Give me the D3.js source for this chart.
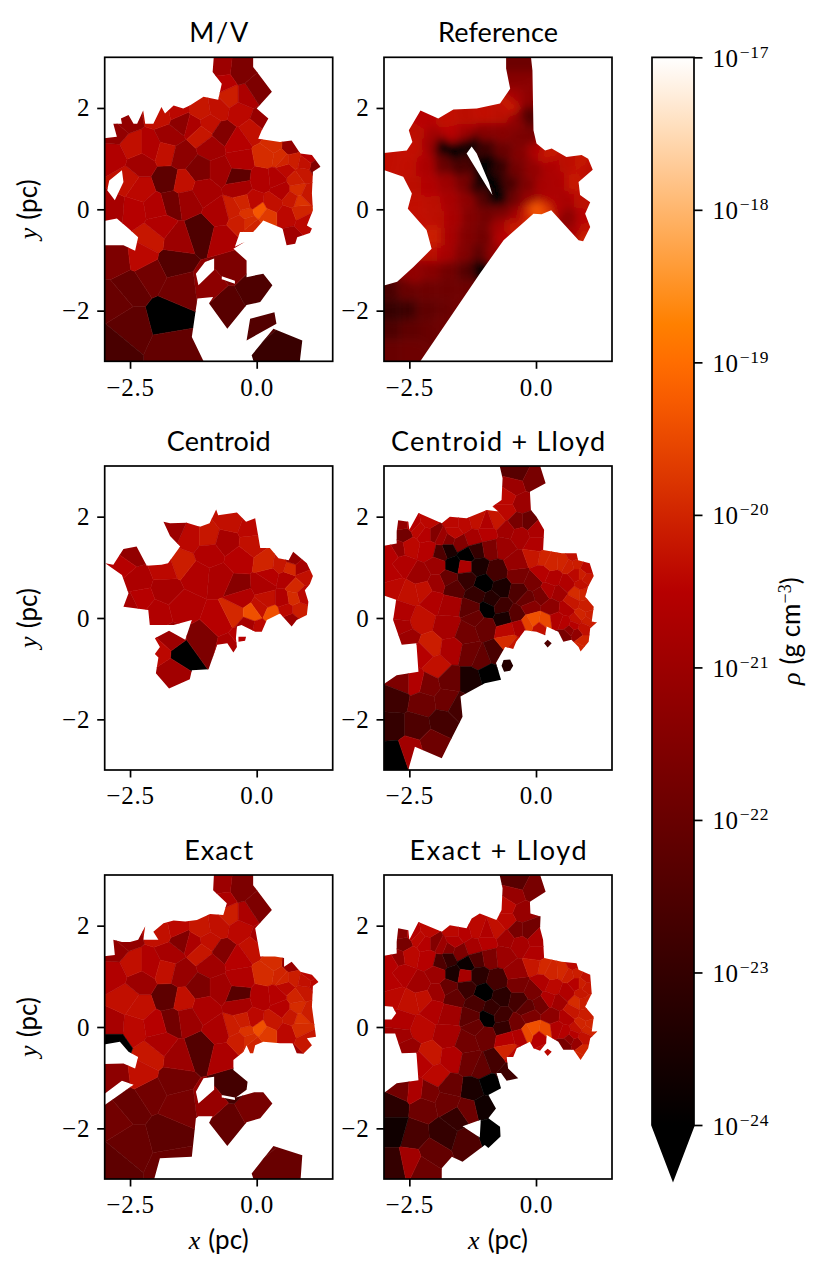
<!DOCTYPE html>
<html>
<head>
<meta charset="utf-8">
<script src="https://cdn.jsdelivr.net/npm/d3@7"></script>
<style>
  body { margin: 0; background: #fff; }
  text { fill: #000; }
</style>
</head>
<body>
<svg id="chart" width="830" height="1274"></svg>
<script>
// all density values are log10(rho), positions in pc
const titles = ['M/V', 'Reference', 'Centroid', 'Centroid + Lloyd', 'Exact', 'Exact + Lloyd']
const titleWidths = [59, 120, 104, 214, 69, 177]
const xTicks = [-2.5, 0]
const yTicks = [-2, 0, 2]
const rhoTicks = [-17, -18, -19, -20, -21, -22, -23, -24]

// M/V mesh generators (the Exact panel sits on nearly the same mesh)
const mvX = [
  -1.74, -1.09, -1.76, -0.36, -1.67, -1.64, -0.59, -0.07, -0.49, -0.92,
  0.1, 0.43, -2.5, -2.1, -1.51, -1.64, -2.5, -2.83, -2.76, -2.82,
  -1.58, -2.07, -2.27, -2.43, -2.83, -2.3, -2.57, -2.3, -2.43, -2.83,
  -2.1, -1.71, -1.78, -1.48, -1.48, -1.25, -1.09, -1.58, -1.88, -0.95,
  -1.09, -0.66, -0.89, -0.53, -0.76, -0.33, -0.2, 0, -0.33, -0.69,
  -0.66, 0.1, -0.07, -0.39, -0.33, -1.12, -0.72, -1.05, -1.45, -1.38,
  -2, -1.91, -0.46, -0.72, -0.66, -0.33, 0.1, 0.49, -0.2, 0.07,
  -0.07, 0.3, 0.59, 0.86, 0.82, 0.92, 0.59, 0.66, 0.46, 0.2,
  0.69, 1.05, 1.18, 0.99, -2.62, -2.8,
  0.33, 0.55, 0.72, 0.95, 0.78, 0.85, 1, 0.7, 0.4, -0.05,
  -0.25, -0.15, 0.2, -0.35
]
const mvY = [
  -2.12, -0.45, 0.57, 0.63, 0.14, -1.04, -1.86, -1.57, -1.14, -1.5,
  -2.29, -2.68, -1.53, -1.27, -1.57, -2.72, -2.32, -2.72, -1, -1.8,
  -0.61, -0.55, -0.94, -0.02, 0.01, 0.38, 0.57, 0.9, 1.23, 1.03,
  1.23, 1.43, 1.14, 1.07, 1.72, 1.66, 1.94, 1.95, 1.89, 1.69,
  1.49, 1.49, 1.23, 2.22, 1.99, 1.92, 2.22, 2.35, 2.74, 2.78,
  2.51, 1.76, 1.56, 1.33, 0.97, 0.77, 0.77, 0.38, 0.51, 0.18,
  0.05, -0.35, -0.02, -0.09, -0.55, 0.44, 0.57, 0.38, -0.09, -0.02,
  -0.35, 0.11, -0.12, -0.02, 0.38, 0.7, 0.8, 1.23, 1.03, 1.07,
  -0.58, 1.03, 0.85, -0.28, 1.76, 1.55,
  1.25, 0.95, 0.95, 0.9, 0.6, 0.15, 0.3, 0.2, 0.6, 0.15,
  0.1, -0.25, -0.12, -0.25
]
const mvRho = [
  -24.5, -22.5, -22.2, -22.2, -21.8, -22.4, -22.3, -22.5, -21.6, -21.3,
  -22.4, -22.9, -22.1, -21.8, -21.8, -22.1, -22.2, -22.6, -21.6, -22,
  -21, -20.2, -20.4, -20.5, -20.8, -20.4, -20.3, -20.9, -20.3, -20.6,
  -20.6, -21, -20.3, -21.3, -21.3, -20.7, -20.2, -20.4, -20.3, -20.3,
  -20.2, -21.5, -20.9, -20.1, -20.3, -20.4, -20.7, -21.6, -21.6, -21,
  -20.5, -21.1, -20.3, -20.5, -20.6, -21.6, -20.9, -20.8, -20.3, -21,
  -20.6, -20.6, -20.1, -20.7, -20.7, -20.8, -20.6, -20.6, -19.8, -19.3,
  -20, -20.3, -20.4, -20, -19.9, -20.2, -20.4, -21.2, -19.9, -19.9,
  -20.9, -20.5, -21.5, -20.4, -21.2, -21.2,
  -19.9, -20, -20.1, -20.3, -20.1, -19.8, -20.2, -20.2, -20.6, -20.4,
  -20, -19.9, -19.7, -20.1
]
const mvRings = [
  [[-0.84, 3.1], [-0.07, 3.1], [-0.07, 2.81], [0.3, 2.32], [0, 1.99], [0.23, 1.79], [0.1, 1.56], [0.03, 1.39], [0.46, 1.33], [0.69, 1.36],
   [0.86, 1.1], [1.09, 1.07], [1.26, 0.84], [1.11, 0.74], [1.09, 0.31], [1.11, -0.02], [0.99, -0.32], [1.09, -0.38], [1.05, -0.47], [0.8, -0.55],
   [0.76, -0.68], [0.59, -0.71], [0.51, -0.38], [0.13, -0.22], [-0.07, -0.45], [-0.33, -0.45], [-0.43, -0.74], [-0.23, -0.64], [-0.46, -0.78], [-0.2, -1.01],
   [-0.2, -1.34], [0.13, -1.27], [0.31, -1.5], [0.07, -1.83], [-0.2, -1.89], [-0.58, -2.36], [-0.94, -1.86], [-0.86, -1.73], [-1.17, -1.76], [-1.28, -2.52],
   [-1, -3.1], [-3.1, -3.1], [-3.1, -0.71], [-2.63, -0.71], [-2.4, -0.82], [-2.34, -0.55], [-2.53, -0.38], [-2.76, -0.18], [-3.1, -0.25], [-3.1, 1.39],
   [-2.76, 1.43], [-2.83, 1.69], [-2.66, 1.69], [-2.68, 1.79], [-2.53, 1.86], [-2.43, 1.69], [-2.36, 1.69], [-2.24, 1.95], [-2.2, 1.69], [-2.04, 1.69],
   [-1.88, 2.02], [-1.81, 1.89], [-1.64, 2.05], [-1.45, 1.99], [-1.32, 2.05], [-1.05, 2.22], [-0.76, 2.16], [-0.69, 2.48], [-0.87, 2.71]],
  [[-2.95, 0.375], [-2.8, 0.18], [-2.63, 0.54], [-2.66, 0.77], [-2.91, 0.57]],
  [[-1.2, -1.27], [-1.02, -1.04], [-0.84, -0.97], [-0.84, -1.2], [-1.15, -1.5]],
  [[-0.69, -1.32], [-0.43, -1.41], [-0.43, -1.47], [-0.69, -1.38]],
  [[-0.13, -2.16], [0.35, -2.03], [0.39, -2.26], [-0.2, -2.59]],
  [[-0.1, -2.88], [0.33, -2.36], [0.9, -2.59], [0.84, -3.1], [-0.03, -3.1]]
]

// Reference: fine mesh, read row by row and drawn smoothed
const refX = [
  -0.35, -0.35, -0.35, -0.51, -0.18, -0.18,
  -2.16, -1.76, -1.37, -1.04, -0.64, -0.38,
  -2.34, -2.03, -1.7, -1.37, -1.04, -0.64, -0.32, -0.12,
  -2.41, -2.08, -1.86, -1.63, -1.37, -1.24, -1.01, -0.64, -0.32, 0.01, 0.21,
  -2.88, -2.55, -2.16, -1.83, -1.5, -0.94, -0.71, -0.38, -0.05, 0.28, 0.61, 0.93,
  -2.41, -2.09, -1.76, -1.43, -1.17, -1, -0.78, -0.51, -0.18, 0.14, 0.47, 0.74,
  -2.36, -2.03, -1.7, -1.37, -1.04, -0.84, -0.68, -0.45, -0.12, 0.21, 0.61, 0.87,
  -2.29, -1.96, -1.63, -1.3, -0.97, -0.64, -0.38, -0.18, 0.01, 0.21, 0.37, 0.67, 0.93,
  -2.03, -1.7, -1.37, -1.04, -0.71, -0.45, -0.64, 0.8, 0.93,
  -2.09, -1.76, -1.43, -1.1, -0.84,
  -2.41, -2.09, -1.7, -1.37, -1.1,
  -2.88, -2.55, -2.16, -1.76, -1.37,
  -2.88, -2.55, -2.16, -1.76, -1.5,
  -2.88, -2.49, -2.09, -1.83,
  -2.88, -2.49,
  1, 1.04, 1.01
]
const refY = [
  2.87, 2.55, 2.22, 2.02, 1.82, 2.22,
  1.76, 1.76, 1.82, 1.89, 1.89, 1.76,
  1.49, 1.46, 1.49, 1.49, 1.49, 1.49, 1.43, 1.43,
  1.23, 1.3, 1.26, 1.13, 1.26, 1.33, 1.23, 1.16, 1.1, 1.16, 1.1,
  0.97, 0.9, 0.87, 0.9, 0.84, 0.9, 0.84, 0.77, 0.77, 0.84, 0.9, 0.9,
  0.44, 0.44, 0.51, 0.51, 0.44, 0.57, 0.44, 0.51, 0.44, 0.44, 0.51, 0.51,
  0.11, 0.11, 0.18, 0.18, 0.24, 0.28, 0.18, 0.18, 0.24, 0.24, 0.18, 0.18,
  -0.22, -0.15, -0.15, -0.15, -0.15, -0.02, -0.09, -0.12, -0.01, 0.01, 0.05, -0.15, -0.15,
  -0.55, -0.55, -0.55, -0.55, -0.35, -0.38, -0.55, -0.51, -0.55,
  -0.88, -0.88, -0.88, -0.88, -0.88,
  -1.27, -1.2, -1.2, -1.2, -1.17,
  -1.66, -1.6, -1.6, -1.6, -1.6,
  -1.99, -1.99, -1.99, -1.99, -1.93,
  -2.39, -2.39, -2.39, -2.32,
  -2.78, -2.78,
  0.84, 0.09, -0.41
]
const refRho = [
  -21.9, -21.4, -20.9, -20.2, -22.4, -21.3,
  -20.5, -20.3, -20.4, -20.3, -20.4, -21.3,
  -20.4, -20.9, -20.5, -21, -21.4, -21.4, -21.6, -21.7,
  -20.3, -21, -24, -24, -23.6, -24, -22.8, -22, -21.5, -20.7, -20.2,
  -20.3, -20.3, -20.7, -22, -22.6, -24, -23, -21.8, -21.2, -20.7, -20.4, -20.2,
  -20.4, -20.6, -21, -21.7, -23.2, -24, -24, -22.6, -21.6, -20.8, -20.7, -20.2,
  -20.3, -20.4, -20.8, -21.3, -22.4, -24.5, -24, -21.9, -21.1, -20.7, -20.8, -20.4,
  -20.3, -20.4, -20.8, -21.5, -21.8, -21.7, -20.9, -20, -19.3, -19.7, -20.6, -21.3, -20.5,
  -20.1, -20.8, -21.5, -21.8, -20.9, -20.2, -20.5, -20.8, -20,
  -20.4, -20.8, -21.5, -22.2, -21.2,
  -21.2, -21.4, -21.8, -22.4, -24.5,
  -22.6, -22, -21.9, -21.9, -21.9,
  -23, -22.8, -22.2, -22, -21.8,
  -22.5, -22.2, -22, -21.9,
  -22, -21.9,
  -20.4, -20.4, -20.3
]
const refRings = [
  [[-0.59, 3.1], [-0.11, 3.1], [-0.07, 2.74], [-0.05, 1.56], [0.01, 1.3], [0.18, 1.16], [0.31, 1.2], [0.6, 1.03], [0.9, 1.07], [1.03, 1],
   [1.12, 0.78], [0.84, 0.54], [0.87, 0.28], [1.07, 0.14], [0.97, -0.09], [1.07, -0.35], [0.93, -0.63], [0.84, -0.61], [0.3, -0.02], [0.11, -0.1],
   [-0.05, -0.09], [-0.2, -0.22], [-0.64, -0.61], [-1.11, -1.27], [-2.29, -3.01], [-2.29, -3.1], [-3.1, -3.1], [-3.1, -1.53], [-2.74, -1.43], [-2.42, -1.14],
   [-2.06, -0.78], [-2.16, -0.41], [-2.53, 0.01], [-2.45, 0.31], [-2.62, 0.64], [-2.99, 0.77], [-3.1, 0.77], [-3.1, 1.1], [-2.55, 1.16], [-2.44, 1.33],
   [-2.51, 1.56], [-2.28, 1.95], [-1.93, 1.79], [-1.63, 1.97], [-1.17, 1.99], [-0.71, 2.09], [-0.51, 2.38], [-0.59, 2.78]],
  [[-1.37, 1.1], [-1.27, 1.24], [-1.17, 1.1], [-0.93, 0.53], [-0.86, 0.28], [-0.96, 0.43]]
]

// Centroid
const cenX = [
  -1.48, -1.09, -1.68, -1.68, -1.91, -0.36, -1.78, -2.37, -2.5, -2.63,
  -2.3, -2.5, -1.97, -1.45, -1.18, -0.72, -1.51, -1.8, -1.32, -1.64,
  -0.95, -0.62, -0.92, -0.53, -0.1, -0.33, -0.07, -0.72, -0.46, -0.3,
  0.07, -0.07, 0.3, 0.13, 0.2, 0.53, 0.26, 0.59, 0.2, 0.66,
  0.46, 0.72, 0.89, 0.95, 0.76, 0.82, 0.66, 0.92, 0.59, 0.72,
  -0.49, 0.03, -0.3, -0.16
]
const cenY = [
  -0.71, -0.43, -0.43, -1.03, -0.68, 0.62, 0.55, 0.75, 1.24, 1.05,
  0.36, 0.26, 0.09, 0.22, 0.82, 0.78, 1.08, 0.98, 1.6, 1.74,
  1.6, 1.51, 1.28, 1.93, 1.77, 1.14, 1.47, -0.04, 0.09, 0.42,
  0.19, 0.09, 0.09, 0.65, 0.36, 0.36, 0.85, 0.78, 1.08, 0.98,
  1.05, 1.18, 0.98, 0.82, 0.62, 0.16, -0.04, 0.45, 0.16, 0.39,
  -0.57, -0.2, -0.42, -0.16
]
const cenRho = [
  -24.5, -21.6, -21, -20.9, -20.4, -21.4, -20.8, -20.7, -21.2, -20.5,
  -20.5, -20.8, -20.6, -20.6, -20.6, -20.7, -20.1, -20.4, -20.4, -21,
  -20.2, -20.8, -20.6, -20.3, -20.4, -20.5, -20.3, -20.5, -19.95, -20.6,
  -20.3, -19.4, -19.4, -20.7, -20.3, -20.6, -20.5, -20.6, -20, -19.95,
  -20.2, -21.2, -20.8, -20.3, -19.95, -20.1, -21, -20.4, -20.4, -19.9,
  -20.7, -20.4, -20.5, -20.8
]
const cenRings = [
  [[-0.8, 2.14], [-0.76, 2.03], [-0.39, 2.08], [-0.21, 1.9], [-0.03, 1.97], [0.07, 1.38], [0.26, 1.38], [0.43, 1.18], [0.63, 1.14], [0.72, 1.31],
   [0.99, 1.08], [1.11, 0.83], [1.05, 0.67], [0.95, 0.55], [1.02, 0.32], [0.99, 0.06], [0.79, -0.04], [0.69, -0.17], [0.46, 0.09], [0.2, -0.04],
   [0.1, -0.27], [-0.03, -0.27], [-0.3, -0.14], [-0.39, -0.17], [-0.41, -0.4], [-0.39, -0.57], [-0.46, -0.68], [-0.58, -0.5], [-0.78, -0.53], [-0.95, -1.01],
   [-1.28, -1.03], [-1.32, -1.21], [-1.73, -1.39], [-1.99, -1.09], [-1.94, -0.78], [-2.01, -0.71], [-1.91, -0.57], [-2.01, -0.4], [-1.73, -0.25], [-1.41, -0.43],
   [-1.28, -0.04], [-1.64, -0.14], [-2.11, -0.14], [-2.14, 0.16], [-2.63, 0.22], [-2.53, 0.49], [-2.66, 0.85], [-2.99, 1.08], [-2.83, 1.05], [-2.63, 1.36],
   [-2.37, 1.41], [-2.17, 1.03], [-1.88, 1.05], [-1.75, 1.08], [-1.51, 1.41], [-1.71, 1.62], [-1.84, 1.9], [-1.71, 1.87], [-1.38, 1.88], [-1.12, 1.8],
   [-0.93, 1.87]],
  [[-0.36, -0.37], [-0.21, -0.37], [-0.23, -0.45], [-0.36, -0.47]]
]

// Exact reuses the M/V mesh plus one thin black cell on the left edge
const exactX = mvX.concat([-2.83])
const exactY = mvY.concat([-0.3])
const exactRho = [
  -22.2, -22.4, -22.2, -22.3, -21.8, -21.8, -22.1, -21.7, -22.7, -21.1,
  -22, -22, -22, -21.8, -21.7, -22, -22, -22.2, -21.3, -21.8,
  -21, -20.2, -20.3, -20.4, -20.8, -20.3, -20.3, -21, -20.3, -20.6,
  -20.6, -20.8, -20.3, -21.1, -21.5, -20.7, -20.2, -20.4, -20.3, -20.3,
  -20.2, -21.5, -20.9, -20.1, -20.3, -20.4, -20.7, -21.6, -21.6, -21,
  -20.7, -20.8, -20.3, -20.5, -20.6, -21.6, -20.9, -20.7, -20.3, -21,
  -20.5, -20.7, -20.1, -20.7, -20.7, -20.8, -20.6, -20.5, -19.8, -19.4,
  -20, -20.2, -20.4, -19.9, -19.9, -20.2, -20.4, -21.1, -20, -19.9,
  -20.9, -20.4, -20.4, -20.2, -21.2, -21.2,
  -19.9, -20, -20.1, -20.3, -20, -19.8, -20.1, -20.2, -20.5, -20.4,
  -20.1, -19.9, -19.7, -20.1,
  -25
]
const exactRings = [
  [[-0.84, 3.1], [-0.07, 3.1], [-0.07, 2.8], [0.3, 2.31], [-0.03, 1.95], [0.07, 1.39], [0.36, 1.39], [0.54, 1.36], [0.54, 1.19], [0.69, 1.29],
   [0.86, 1.09], [1.09, 1.03], [1.22, 0.89], [1.11, 0.81], [1.09, 0.4], [1.17, -0.19], [0.99, -0.22], [1.09, -0.36], [0.92, -0.53], [0.79, -0.52],
   [0.71, -0.32], [0.46, -0.32], [0.13, -0.29], [-0.03, -0.36], [-0.07, -0.52], [-0.13, -0.52], [-0.2, -0.36], [-0.26, -0.49], [-0.46, -0.65], [-0.46, -0.85],
   [-0.18, -1.08], [-0.2, -1.24], [-0.41, -1.39], [-0.05, -1.29], [0.13, -1.29], [0.31, -1.51], [0.07, -1.8], [-0.2, -1.88], [-0.58, -2.35], [-0.94, -1.89],
   [-0.87, -1.76], [-1.15, -1.76], [-1.2, -1.8], [-1.28, -2.56], [-1.91, -2.59], [-2.05, -3.1], [-3.1, -3.1], [-3.1, 1.39], [-2.8, 1.42], [-2.83, 1.72],
   [-2.66, 1.68], [-2.5, 1.68], [-2.34, 1.72], [-2.2, 1.99], [-2.24, 1.72], [-1.94, 1.72], [-2.04, 1.88], [-1.84, 2.05], [-1.64, 2.1], [-1.41, 2.08],
   [-1.18, 2.11], [-0.92, 2.23], [-0.66, 2.21], [-0.59, 2.44], [-0.86, 2.7]],
  [[-3.1, -0.36], [-2.7, -0.29], [-2.53, -0.49], [-2.34, -0.59], [-2.4, -0.82], [-2.63, -0.72], [-3.1, -0.73]],
  [[-3.1, -1.39], [-2.66, -1.06], [-2.43, -1.14], [-3.1, -1.61]],
  [[-1.2, -1.28], [-1.05, -1.01], [-0.84, -0.98], [-0.84, -1.24], [-1.15, -1.51]],
  [[-0.69, -1.34], [-0.43, -1.39], [-0.43, -1.44], [-0.69, -1.39]],
  [[-0.1, -2.89], [0.33, -2.35], [0.9, -2.53], [0.86, -3.1], [-0.03, -3.1]]
]

// Lloyd meshes: the upper part is common to both Lloyd panels
const lloydX = [
  -0.38, -0.05, -0.45, -0.28, -0.58, -0.58, -0.15, -0.38, 0.01, 0.01,
  -0.78, -0.97, -1.17, -1.43, -1.63, -0.58, -0.32, -0.64, -0.97, -1.23,
  -1.5, -1.73, -1.63, -1.99, -2.19, -2.62, -2.65, -2.42, -2.13, -2.72,
  -2.88, -2.49, -2.13, -1.73, -1.88, -1.37, -1.17, -0.91, -1.63, -1.4,
  -1.14, -0.78, -1.04, -1.37, -1.73, -1.63, -0.68, -1.17, -0.88, -0.97,
  -0.68, -0.64, -0.35, -0.35, -0.38, -0.05, 0.11, -0.18, -0.38, -0.12,
  -1.96, -2.29, -2.62, -2.88, -2.82, -2.49, -1.96, -2.22, -2.03, -1.7,
  -1.27, -2.29, -2.62, -2.65, -2.55, -1.73, -1.37, -1, -1.2, -2.09,
  -2.22, -1.96, -1.66, -1.3, -1.07, -0.81, -0.58, -0.54, -0.45, -0.05,
  0.18, 0.08, -0.18, -0.32, 0.21, 0.57, 0.8, 1, 0.8, 1,
  0.8, 1, 0.8, 0.8, 0.54, 0.14, -0.02, 0.74, 1, 0.34,
  0.11, 0.61, 0.44, 0.31, 0.61, 0.57, 0.41, 0.93, 0.87, 0.67,
  0.93, 0.93,
  0.3, 0.65, 0.9, 0.9, 1.05, 0.7, 0.9, 1.05, 0.75, 0.25,
  -2.3, -1.85
]
const lloydY = [
  2.89, 2.72, 2.59, 2.26, 2.39, 2.1, 1.9, 1.9, 1.74, 1.44,
  1.93, 1.86, 1.93, 1.87, 1.87, 1.74, 1.64, 1.41, 1.67, 1.57,
  1.47, 1.55, 1.7, 1.67, 1.67, 1.64, 1.87, 1.86, 1.9, 1.38,
  1.28, 1.41, 1.34, 1.34, 1.28, 1.24, 1.34, 1.38, 1.05, 1.01,
  1.01, 0.91, 0.67, 0.78, 0.78, 0.59, 0.59, 0.45, 0.36, 0.17,
  0.22, -0.01, 0.52, 0.85, 1.08, 0.72, 0.45, 0.36, 0.06, 0.22,
  1.05, 0.85, 1.05, 0.85, 0.62, 0.49, 0.68, 0.55, 0.36, 0.26,
  0.19, -0.04, 0.09, -0.17, -0.4, -0.17, -0.3, -0.17, 0.03, -0.57,
  -0.7, -0.96, -0.63, -0.7, -0.8, -0.7, -0.24, -0.47, -0.55, -0.04,
  -0.07, -0.2, -0.11, -0.17, -0.5, -0.34, -0.3, -0.04, -0.04, 0.22,
  0.49, 0.78, 0.85, 1.08, 1.11, 1.18, 1.21, 1.21, 0.98, 0.78,
  0.88, 0.68, 0.49, 0.22, 0.19, -0.1, -0.04, -0.47, -0.6, -0.24,
  -0.2, 0.49,
  1.1, 1.05, 0.85, 0.65, 0.5, 0.3, 0.05, 0.05, -0.15, 0.55,
  1.75, 1.6
]
const clLowX = [-1.3, -0.91, -0.57, -1.7, -2.13, -2.39, -2.65, -2.78, -2.23, -1.76, -1.53, -2.82, -2.36, -1.83, -2.03, -2.78, -2.49]
const clLowY = [-1.22, -1.11, -0.94, -1.22, -1.32, -1.26, -1.26, -1.59, -1.68, -1.62, -1.75, -2.14, -2.14, -2.05, -2.47, -2.7, -2.6]
const clRho = [
  -22.3, -21.7, -21, -21, -20.4, -20.4, -22, -21.7, -20.7, -20.6,
  -20.2, -20.6, -20.3, -20.4, -20.4, -20.9, -20.8, -21, -20.5, -20.8,
  -21.5, -21.5, -20.4, -21.5, -20.5, -21.8, -21.2, -20.5, -20.4, -21.2,
  -20.5, -20.4, -20.5, -23.5, -22.5, -24.5, -23, -21.6, -24, -20.7,
  -23.5, -22.7, -25, -23, -22, -22.3, -23.5, -23, -23.3, -24.5,
  -22.8, -23.5, -22.5, -21.7, -21.1, -21.7, -21.7, -22, -22.3, -21.4,
  -21, -21, -20.6, -20.5, -20.4, -20.3, -21, -20.3, -20.6, -20.8,
  -22.2, -20.3, -20.6, -20.8, -21, -20.8, -21.8, -22, -22, -20.1,
  -20.5, -20.3, -20.7, -21.9, -22.1, -22.6, -20.4, -19.9, -20.2, -19.4,
  -19.5, -20.3, -19.6, -20.7, -22.5, -21.7, -21.2, -20.1, -20.3, -20.1,
  -19.9, -20.2, -20.4, -20.1, -20, -20, -20.2, -20.3, -20.4, -20.6,
  -20.5, -20.6, -20.9, -21.3, -20.6, -20.5, -20.6, -20, -20, -21.3,
  -20.3, -20,
  -20, -20.1, -20.1, -20.3, -20.1, -20.2, -20, -20.1, -20.5, -20.7,
  -20.4, -21,
  // lower part
  -23.5, -25, -23.3, -22, -21.7, -20.6, -21.6, -22.8, -21.9, -21.9, -22.7, -23, -22.5, -22.7, -21.9, -25, -20.9
]
const clRings = [
  [[-0.74, 3.1], [0.05, 3.1], [0.19, 2.66], [-0.12, 2.49], [-0.1, 2.13], [0.01, 2], [0.16, 1.74], [0.14, 1.34], [0.51, 1.28], [0.8, 1.28],
   [0.83, 1.14], [1.06, 1.08], [1.14, 0.83], [1.03, 0.62], [0.97, 0.42], [1.14, 0.22], [1.1, -0.07], [1.2, -0.09], [1.07, -0.2], [1.04, -0.47],
   [0.88, -0.66], [0.84, -0.57], [0.7, -0.43], [0.54, -0.47], [0.44, -0.27], [0.21, -0.17], [0.18, -0.34], [0.01, -0.27], [-0.22, -0.24], [-0.39, -0.47],
   [-0.45, -0.61], [-0.61, -0.57], [-0.79, -0.89], [-0.69, -1.22], [-1.01, -1.29], [-1.49, -1.55], [-1.45, -1.95], [-1.7, -2.44], [-1.86, -2.77], [-2.39, -2.54],
   [-2.55, -3.1], [-3.1, -3.1], [-3.1, -1.39], [-2.98, -1.29], [-2.75, -1.13], [-2.32, -1.06], [-2.36, -0.5], [-2.65, -0.53], [-2.82, -0.04], [-2.76, 0.36],
   [-2.99, 0.44], [-3.1, 0.44], [-3.1, 1.41], [-2.75, 1.47], [-2.75, 1.7], [-2.72, 1.93], [-2.52, 1.9], [-2.5, 1.74], [-2.32, 2.07], [-1.86, 1.87],
   [-1.7, 2], [-1.37, 1.97], [-0.97, 2.13], [-0.74, 2.1], [-0.86, 2.2], [-0.68, 2.33], [-0.66, 2.76]],
  [[-0.68, -0.94], [-0.64, -0.83], [-0.51, -0.82], [-0.45, -0.94], [-0.51, -1.04], [-0.63, -1.06]],
  [[0.16, -0.5], [0.23, -0.43], [0.31, -0.5], [0.23, -0.58]]
]

const elLowX = [-1.24, -0.91, -1.04, -0.91, -0.57, -1.37, -1.57, -1.34, -1.8, -2.42, -2.03, -2.78, -2.78, -2.78, -2.22, -2.49, -2.22, -1.76, -2.13, -2.65, -2.39, -1.7]
const elLowY = [-1.24, -1.13, -1.57, -2.07, -0.91, -2.23, -1.8, -1.64, -2.1, -2.13, -2.49, -1.54, -2.03, -2.72, -2.79, -2.66, -1.57, -1.47, -1.3, -1.25, -1.27, -1.18]
const elRho = [
  -22.3, -21.7, -21.1, -21.1, -20.4, -20.4, -21.8, -21.7, -20.7, -20.6,
  -20.3, -20.6, -20.4, -20.5, -20.4, -20.9, -20.8, -21, -20.5, -20.8,
  -21.6, -21.5, -20.6, -21.5, -20.5, -21.7, -21.4, -20.5, -20.4, -21.2,
  -20.5, -20.4, -20.5, -23, -22.5, -23.8, -22.5, -21.6, -23.5, -20.8,
  -23.2, -22.7, -25, -22.9, -22, -22.1, -23.2, -22.6, -23, -24.5,
  -22.8, -23, -22.7, -21.7, -21.1, -21.7, -21.8, -22.2, -21.8, -21.6,
  -21, -20.9, -20.6, -20.5, -20.4, -20.3, -21, -20.3, -20.6, -20.9,
  -22.2, -20.4, -20.6, -20.9, -21.1, -20.8, -21.8, -21.9, -22, -20.2,
  -20.5, -20.4, -20.6, -21.9, -22.1, -22.7, -20.5, -20, -20.4, -19.4,
  -19.5, -20.5, -19.5, -20.6, -20.4, -21.7, -21.1, -20, -20.3, -20.1,
  -19.9, -20.2, -20.5, -20.1, -19.95, -19.95, -20.2, -20.4, -20.3, -20.4,
  -20.6, -20.6, -20.9, -21.3, -20.6, -20.5, -20.6, -20, -20, -21.3,
  -20.3, -20.1,
  -20, -20.1, -20.1, -20.2, -20.1, -20.2, -20, -20, -20.5, -20.6,
  -20.4, -21,
  // lower part
  -23.5, -25, -23.7, -24, -22.8, -22.5, -23, -21.9, -23, -22.6, -22.1, -23.2, -23.7, -23, -21.9, -20.9, -21.9, -21.9, -21.7, -21.8, -20.7, -22
]
const elRings = [
  [[-0.74, 3.1], [0.05, 3.1], [0.19, 2.67], [-0.12, 2.47], [-0.11, 2.24], [0.09, 2.18], [0.08, 1.95], [0.14, 1.72], [0.16, 1.36], [0.51, 1.29],
   [0.8, 1.26], [0.84, 1.13], [1.07, 1.03], [1.1, 0.66], [0.97, 0.4], [1.14, 0.2], [1.1, -0.09], [1.21, -0.09], [1.07, -0.22], [1.03, -0.42],
   [0.88, -0.65], [0.74, -0.45], [0.54, -0.45], [0.44, -0.29], [0.21, -0.16], [0.2, -0.32], [0.08, -0.47], [-0.05, -0.42], [-0.12, -0.29], [-0.38, -0.42],
   [-0.45, -0.59], [-0.58, -0.59], [-0.55, -0.82], [-0.35, -1.01], [-0.58, -1.06], [-0.69, -0.91], [-0.78, -0.91], [-0.69, -1.21], [-0.94, -1.34], [-0.79, -1.61],
   [-0.94, -1.8], [-0.71, -1.97], [-0.7, -2.16], [-0.94, -2.39], [-1.01, -2.33], [-1.45, -2.66], [-1.66, -2.56], [-1.86, -2.79], [-1.86, -3.1], [-3.1, -3.1],
   [-3.1, -1.31], [-2.98, -1.29], [-2.75, -1.11], [-2.32, -1.05], [-2.36, -0.51], [-2.65, -0.52], [-2.78, -0.13], [-3.1, -0.13], [-3.1, 1.39], [-2.75, 1.45],
   [-2.75, 1.68], [-2.72, 1.95], [-2.52, 1.91], [-2.5, 1.72], [-2.32, 2.07], [-1.86, 1.88], [-1.7, 2.01], [-1.37, 1.95], [-1.27, 2.14], [-1.11, 2.24],
   [-0.78, 2.11], [-0.68, 2.31], [-0.66, 2.74]],
  [[0.16, -0.49], [0.23, -0.43], [0.31, -0.49], [0.23, -0.57]],
  [[-3.1, 0.42], [-2.83, 0.4], [-2.76, 0.27], [-2.85, 0.15], [-3.1, 0.15]],
  [[-1.45, -1.96], [-1.09, -1.83], [-1.11, -2.18]]
]

const panels = [
  { xs: mvX, ys: mvY, rho: mvRho, rings: mvRings },
  { xs: refX, ys: refY, rho: refRho, rings: refRings, smooth: true },
  { xs: cenX, ys: cenY, rho: cenRho, rings: cenRings },
  { xs: lloydX.concat(clLowX), ys: lloydY.concat(clLowY), rho: clRho, rings: clRings },
  { xs: exactX, ys: exactY, rho: exactRho, rings: exactRings },
  { xs: lloydX.concat(elLowX), ys: lloydY.concat(elLowY), rho: elRho, rings: elRings }
]

const serif = '"Liberation Serif", serif'
const sans = 'Lato, sans-serif'
const colLeft = [104.7, 384]
const rowTop = [57.3, 466, 875]
const panelW = 228
const panelH = 304

const svg = d3.select('#chart')
const defs = svg.append('defs')

defs.append('filter').attr('id', 'smooth')
  .attr('x', '-10%').attr('y', '-10%').attr('width', '120%').attr('height', '120%')
  .append('feGaussianBlur').attr('stdDeviation', 4)

// matplotlib's gist_heat, log10(rho) from -24 to -17
const norm = d3.scaleLinear().domain([-24, -17]).range([0, 1]).clamp(true)
const gistHeat = (e) => {
  const t = norm(e)
  const ch = (v) => Math.round(255 * Math.max(0, Math.min(1, v)))
  return `rgb(${ch(t / 0.7)},${ch(2 * t - 1)},${ch(4 * t - 3)})`
}

const x = d3.scaleLinear().domain([-3, 1.5]).range([0, panelW])
const y = d3.scaleLinear().domain([-3, 3]).range([panelH, 0])
const ringPath = d3.line().x((d) => x(d[0])).y((d) => y(d[1])).curve(d3.curveLinearClosed)

panels.forEach((p, i) => {
  const col = i % 2
  const row = Math.floor(i / 2)
  const g = svg.append('g').attr('transform', `translate(${colLeft[col]},${rowTop[row]})`)

  defs.append('clipPath').attr('id', `frame${i}`)
    .append('rect').attr('width', panelW).attr('height', panelH)
  defs.append('clipPath').attr('id', `shape${i}`)
    .append('path')
    .attr('clip-rule', 'evenodd')
    .attr('d', p.rings.map((r) => ringPath(r)).join(''))

  const delaunay = d3.Delaunay.from(p.xs.map((v, k) => [x(v), y(p.ys[k])]))
  const voronoi = delaunay.voronoi([-40, -40, panelW + 40, panelH + 40])

  const cells = g.append('g').attr('clip-path', `url(#frame${i})`)
    .append('g').attr('clip-path', `url(#shape${i})`)
    .append('g')
  if (p.smooth) cells.attr('filter', 'url(#smooth)')

  cells.selectAll('path')
    .data(p.rho)
    .join('path')
    .attr('d', (d, k) => voronoi.renderCell(k))
    .attr('fill', (d) => gistHeat(d))
    .attr('stroke', (d) => gistHeat(d))
    .attr('stroke-width', 0.5)

  g.append('rect')
    .attr('width', panelW).attr('height', panelH)
    .attr('fill', 'none').attr('stroke', '#000').attr('stroke-width', 1.7)

  const xAxis = g.append('g').attr('transform', `translate(0,${panelH})`)
    .call(d3.axisBottom(x).tickValues(xTicks).tickSize(7.5).tickPadding(9).tickFormat(d3.format('.1f')))
  const yAxis = g.append('g')
    .call(d3.axisLeft(y).tickValues(yTicks).tickSize(7.5).tickPadding(7).tickFormat(d3.format('d')))
  ;[xAxis, yAxis].forEach((a) => {
    a.select('.domain').remove()
    a.selectAll('line').attr('stroke-width', 1.7)
    a.selectAll('text').attr('font-family', serif).attr('font-size', 25).attr('letter-spacing', 0.8)
  })

  g.append('text')
    .attr('x', panelW / 2).attr('y', -15)
    .attr('text-anchor', 'middle')
    .attr('font-family', sans).attr('font-size', 27)
    .attr('textLength', titleWidths[i]).attr('lengthAdjust', 'spacing')
    .text(titles[i])

  if (col === 0) {
    const t = g.append('text')
      .attr('transform', `translate(${-68},${panelH / 2}) rotate(-90)`)
      .attr('text-anchor', 'middle').attr('font-size', 26)
    t.append('tspan').attr('font-family', serif).attr('font-style', 'italic').text('y')
    t.append('tspan').attr('font-family', sans).attr('dx', 8).text('(pc)')
  }
  if (row === 2) {
    const t = g.append('text')
      .attr('x', panelW / 2).attr('y', panelH + 70)
      .attr('text-anchor', 'middle').attr('font-size', 26)
    t.append('tspan').attr('font-family', serif).attr('font-style', 'italic').text('x')
    t.append('tspan').attr('font-family', sans).attr('dx', 8).text('(pc)')
  }
})

// colourbar
const barLeft = 652
const barW = 42
const barTop = 57.3
const barBottom = 1125
const tipY = 1180
const rhoScale = d3.scaleLog()
  .domain([Math.pow(10, -24), Math.pow(10, -17)])
  .range([barBottom, barTop])

const grad = defs.append('linearGradient').attr('id', 'heat')
  .attr('x1', 0).attr('y1', 1).attr('x2', 0).attr('y2', 0)
d3.range(-24, -16.9, 0.25).forEach((e) => {
  grad.append('stop').attr('offset', norm(e)).attr('stop-color', gistHeat(e))
})

const bar = svg.append('g')
const outline = d3.line()([
  [barLeft, barTop], [barLeft + barW, barTop], [barLeft + barW, barBottom],
  [barLeft + barW / 2, tipY], [barLeft, barBottom]
]) + 'Z'
bar.append('path')
  .attr('d', d3.line()([[barLeft, barBottom], [barLeft + barW, barBottom], [barLeft + barW / 2, tipY]]) + 'Z')
  .attr('fill', '#000')
bar.append('rect')
  .attr('x', barLeft).attr('y', barTop).attr('width', barW).attr('height', barBottom - barTop)
  .attr('fill', 'url(#heat)')
bar.append('path').attr('d', outline).attr('fill', 'none').attr('stroke', '#000').attr('stroke-width', 1.7)

const barAxis = svg.append('g').attr('transform', `translate(${barLeft + barW},0)`)
  .call(d3.axisRight(rhoScale).tickValues(rhoTicks.map((e) => Math.pow(10, e))).tickSize(8.5).tickPadding(10).tickFormat(''))
barAxis.select('.domain').remove()
barAxis.selectAll('line').attr('stroke-width', 1.7)
barAxis.selectAll('text').each(function (d, i) {
  const t = d3.select(this)
    .attr('font-family', serif).attr('font-size', 25).attr('dy', 9).attr('dominant-baseline', 'auto')
  t.append('tspan').attr('letter-spacing', 0.4).text('10')
  t.append('tspan').attr('font-size', 17.5).attr('dy', -9).attr('dx', 1.5).attr('letter-spacing', 0.6)
    .text('\u2212' + Math.abs(rhoTicks[i]))
})

const rhoLabel = svg.append('text')
  .attr('transform', `translate(800,${(barTop + barBottom) / 2 + 40}) rotate(-90)`)
  .attr('text-anchor', 'middle').attr('font-size', 26)
rhoLabel.append('tspan').attr('font-family', serif).attr('font-style', 'italic').text('\u03c1')
rhoLabel.append('tspan').attr('font-family', sans).attr('dx', 8).text('(g cm')
rhoLabel.append('tspan').attr('font-family', serif).attr('font-size', 18).attr('dy', -9).text('\u22123')
rhoLabel.append('tspan').attr('font-family', sans).attr('dy', 9).text(')')
</script>
</body>
</html>
